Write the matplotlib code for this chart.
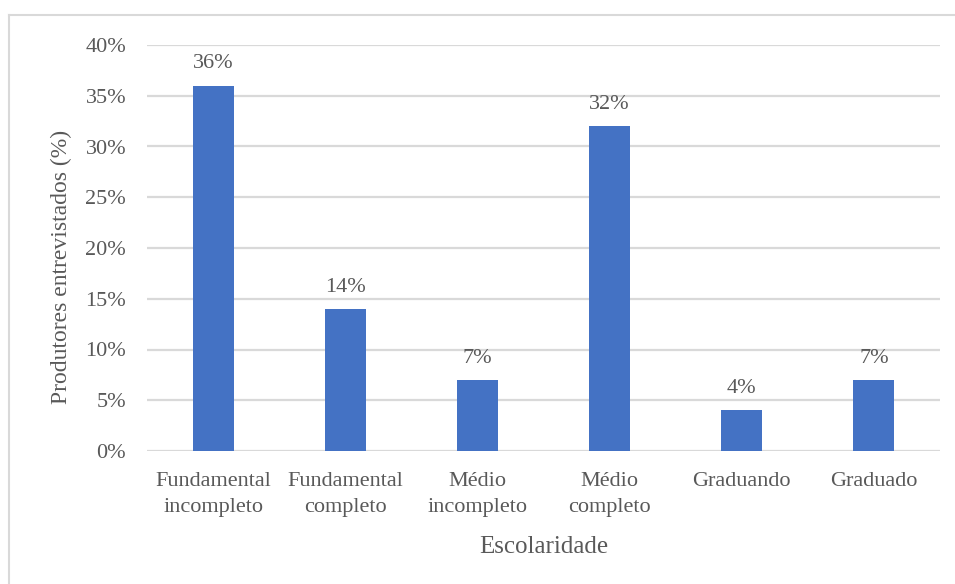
import matplotlib.pyplot as plt
import numpy as np
from matplotlib.lines import Line2D
from matplotlib.ticker import FuncFormatter

plt.rcParams['font.family'] = ['Liberation Serif', 'DejaVu Serif']

categorias = ['Fundamental\nincompleto', 'Fundamental\ncompleto', 'Médio\nincompleto',
              'Médio\ncompleto', 'Graduando', 'Graduado']
valores = [0.36, 0.14, 0.07, 0.32, 0.04, 0.07]
rotulos = ['36%', '14%', '7%', '32%', '4%', '7%']

cor_texto = '#595959'
cor_barra = '#4472C4'
cor_grade = '#D9D9D9'

W, H = 955, 584
fig = plt.figure(figsize=(W / 100, H / 100), dpi=100)
ax = fig.add_axes([147 / W, 1 - 451 / H, (940 - 147) / W, (451 - 45) / H])

x = np.arange(len(categorias))
ax.bar(x, valores, width=0.31, color=cor_barra, zorder=3)
for xi, v, r in zip(x, valores, rotulos):
    ax.text(xi, v + 0.012, r, ha='center', va='bottom', fontsize=16, color=cor_texto)

ax.set_xlim(-0.5, len(categorias) - 0.5)
ax.set_ylim(0, 0.40)
ax.set_yticks(np.arange(0, 0.41, 0.05))
ax.yaxis.set_major_formatter(FuncFormatter(lambda v, p: f'{v*100:.0f}%'))
ax.set_xticks(x)
ax.set_xticklabels(categorias, fontsize=16, color=cor_texto, linespacing=1.5)
ax.tick_params(axis='y', labelsize=16, labelcolor=cor_texto, length=0, pad=15)
ax.tick_params(axis='x', length=0, pad=15)
ax.grid(axis='y', color=cor_grade, linewidth=1.6, zorder=0)
for s in ax.spines.values():
    s.set_visible(False)

ax.set_ylabel('Produtores entrevistados (%)', fontsize=17, color=cor_texto)
ax.yaxis.set_label_coords(-0.094, 0.453)
ax.set_xlabel('Escolaridade', fontsize=18, color=cor_texto, labelpad=14)

# moldura externa
fig.add_artist(Line2D([9 / W, 1], [1 - 15 / H, 1 - 15 / H], color=cor_grade, linewidth=1.5))
fig.add_artist(Line2D([9 / W, 9 / W], [0, 1 - 15 / H], color=cor_grade, linewidth=1.5))

fig.savefig('out.png', dpi=100)
